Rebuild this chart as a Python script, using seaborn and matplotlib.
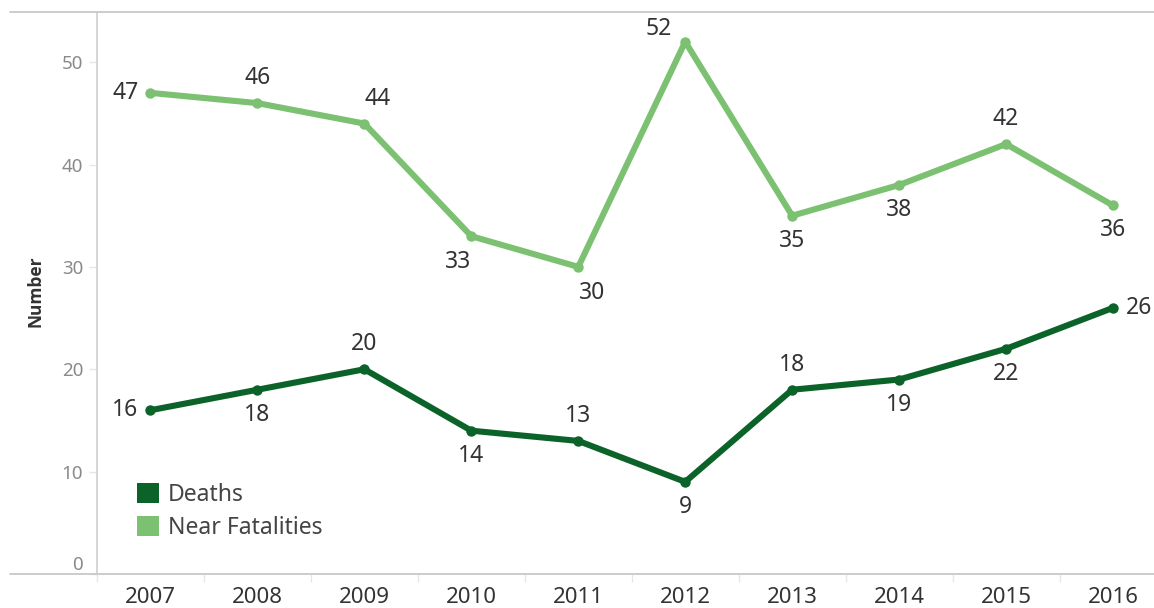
import matplotlib
matplotlib.use("Agg")
import matplotlib.pyplot as plt
from matplotlib.lines import Line2D
from matplotlib.patches import Patch
import seaborn as sns
import pandas as pd

years = [2007, 2008, 2009, 2010, 2011, 2012, 2013, 2014, 2015, 2016]
deaths = [16, 18, 20, 14, 13, 9, 18, 19, 22, 26]
near_fatalities = [47, 46, 44, 33, 30, 52, 35, 38, 42, 36]
series_names = ["Deaths", "Near Fatalities"]
y_ticks = [0, 10, 20, 30, 40, 50]

# label placement per point
deaths_pos = ["left", "below", "above", "below", "above", "below", "above", "below", "below", "right"]
near_pos = ["left", "above", "above_r", "below_l", "below_r", "above_l", "below", "below", "above", "below"]

colors = {"Deaths": "#0c6329", "Near Fatalities": "#7cc172"}

sns.set_theme(style="white")
plt.rcParams["font.family"] = ["Noto Sans", "DejaVu Sans"]

df = pd.DataFrame({
    "idx": list(range(len(years))) * 2,
    "Number": deaths + near_fatalities,
    "series": [series_names[0]] * len(years) + [series_names[1]] * len(years),
})

W, H = 1154, 608
fig = plt.figure(figsize=(W / 100, H / 100), dpi=100)
left, right, top, bottom = 97, 1166.5, 12, 574
ax = fig.add_axes([left / W, 1 - bottom / H, (right - left) / W, (bottom - top) / H])

sns.lineplot(data=df, x="idx", y="Number", hue="series", palette=colors,
             linewidth=4.4, marker="o", markersize=7.5, markeredgewidth=0,
             legend=False, ax=ax)

ax.set_xlim(-0.5, len(years) - 0.5)
ax.set_ylim(0, 54.9)

# axes frame
for s in ["top", "right", "bottom"]:
    ax.spines[s].set_visible(False)
ax.spines["left"].set_color("#cfcfcf")
ax.spines["left"].set_linewidth(1.2)

# top and bottom rules spanning past the y axis
for yy in (top, bottom):
    fig.add_artist(Line2D([10 / W, 1], [1 - yy / H, 1 - yy / H],
                          color="#c8c8c8", linewidth=1.3, transform=fig.transFigure))

ax.set_yticks(y_ticks)
ax.set_yticklabels([str(t) for t in y_ticks])
ax.tick_params(axis="y", length=6, width=1, color="#e6e6e6", pad=4,
               labelsize=13.5, labelcolor="#8a8a8a", left=True)
ax.get_yticklabels()[0].set_verticalalignment("bottom")

ax.set_xticks(range(len(years)))
ax.set_xticklabels([str(y) for y in years])
ax.tick_params(axis="x", length=0, pad=9.5, labelsize=16, labelcolor="#333333")
ax.set_xticks([i - 0.5 for i in range(len(years) + 1)], minor=True)
ax.tick_params(axis="x", which="minor", length=6, width=1, color="#e6e6e6", bottom=True)

ax.set_xlabel("")
ax.set_ylabel("Number", fontsize=12.5, fontweight="bold", color="#333333",
              family=["Open Sans", "DejaVu Sans"])
ax.yaxis.set_label_coords(44 / W, 1 - 291 / H, transform=fig.transFigure)
ax.grid(False)

offsets = {
    "left": (-25, 0),
    "right": (26, 0),
    "above": (0, 25),
    "below": (0, -25),
    "above_r": (13, 25),
    "above_l": (-26, 13),
    "below_l": (-13, -26),
    "below_r": (14, -26),
}

def label_series(values, positions):
    for i, (v, p) in enumerate(zip(values, positions)):
        dx, dy = offsets[p]
        ax.annotate(str(v), (i, v), xytext=(dx * 0.72, dy * 0.72), textcoords="offset points",
                    ha="center", va="center", fontsize=16.5, color="#333333")

label_series(deaths, deaths_pos)
label_series(near_fatalities, near_pos)

handles = [Patch(facecolor=colors[n], edgecolor="none", label=n) for n in series_names]
leg = ax.legend(handles=handles, loc="upper left",
                bbox_to_anchor=(137 / W, 1 - 483 / H), bbox_transform=fig.transFigure,
                frameon=False, fontsize=16.5, handlelength=0.95, handleheight=0.95,
                handletextpad=0.4, labelspacing=0.4, borderpad=0, borderaxespad=0)
for t in leg.get_texts():
    t.set_color("#444444")

fig.savefig("out.png", dpi=100)
